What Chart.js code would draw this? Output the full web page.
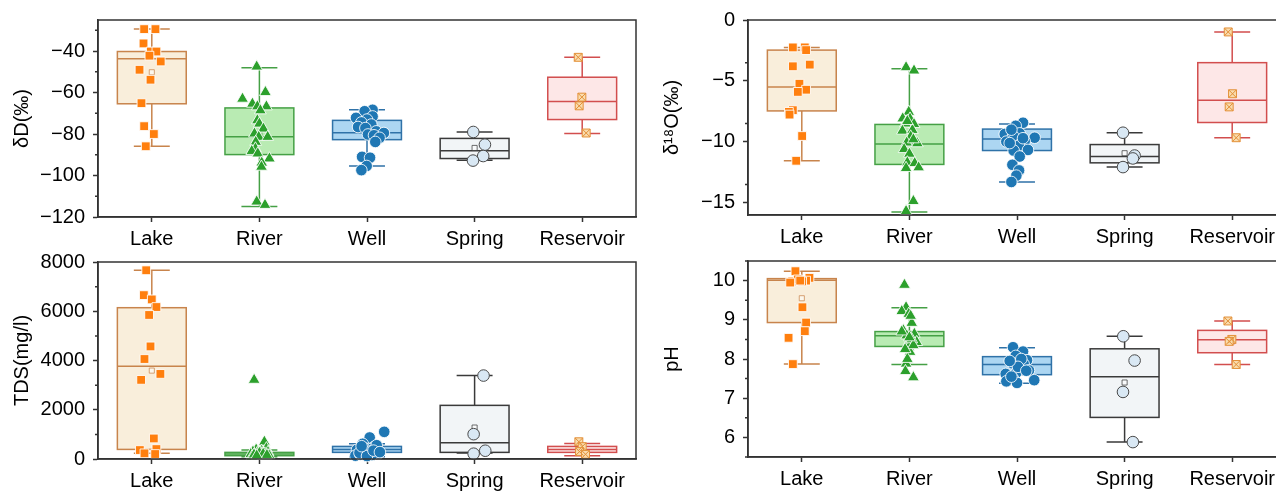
<!DOCTYPE html>
<html>
<head>
<meta charset="utf-8">
<script src="https://cdn.jsdelivr.net/npm/chart.js@4.4.1/dist/chart.umd.min.js"></script>
<style>
    html, body { margin: 0; padding: 0; background: #fff; width: 1276px; height: 492px; overflow: hidden; }
    canvas { position: absolute; }
</style>
</head>
<body>
<canvas id="dDChart" width="645" height="251" style="left:0;top:0"></canvas>
<canvas id="d18OChart" width="645" height="249" style="left:650px;top:0"></canvas>
<canvas id="tdsChart" width="645" height="251" style="left:0;top:242px"></canvas>
<canvas id="phChart" width="645" height="250" style="left:650px;top:241px"></canvas>
<script>
const categories = ["Lake", "River", "Well", "Spring", "Reservoir"];

// box stats per group: whisker low, Q1, median, Q3, whisker high, mean

// dD (‰)
const dDTicks = [-120, -100, -80, -60, -40];
const dDValues = [
    [-29.4, -29.4, -36.3, -40.2, -40.2, -42.2, -45, -49, -53.8, -65.1, -76.2, -80, -85.9],
    [-47.5, -59.8, -63, -65.4, -66.7, -66.7, -68.6, -73.4, -75, -77.4, -79.8, -81.4, -81.4, -83.8, -87, -88.2, -89.4, -91.8, -93.8, -95.8, -112.6, -114.2],
    [-68.3, -69, -72.2, -71.5, -73, -74.4, -75.4, -76.6, -77.1, -78.7, -79.5, -80.2, -80.6, -81.8, -83.8, -91, -91.4, -95.4, -97.4],
    [-79, -85.1, -90.6, -92.8],
    [-43, -62.2, -66.4, -79.5]
];
const dDJitter = [
    [-0.071, 0.034, -0.077, -0.009, 0.043, -0.022, 0.083, -0.114, -0.012, -0.096, -0.071, 0.019, -0.056],
    [-0.025, 0.056, -0.157, -0.065, -0.019, 0.065, 0.009, -0.019, 0, 0.037, -0.046, -0.006, 0.077, -0.034, -0.037, -0.071, -0.015, 0.093, 0.022, 0.019, -0.025, 0.052],
    [0.052, -0.022, -0.102, 0.052, 0, -0.052, 0.04, -0.083, -0.015, 0.086, 0.157, 0.009, 0.065, 0.117, 0.077, -0.046, 0.028, -0.003, -0.052],
    [-0.012, 0.096, 0.08, -0.015],
    [-0.037, -0.003, -0.028, 0.037]
];
const dDBoxes = [
    [-85.9, -65.4, -43.7, -40.2, -29.4, -50.2],
    [-114.9, -89.9, -81.3, -67.4, -48, -80],
    [-95.4, -82.7, -79.4, -73.4, -68.3, -79],
    [-92.6, -91.8, -88, -82.1, -79, -86.7],
    [-79.7, -73, -64.3, -52.6, -43, -62.8]
];

// d18O (‰)
const d18OTicks = [-15, -10, -5, 0];
const d18OValues = [
    [-2.25, -2.25, -2.47, -3.8, -3.66, -5.23, -5.72, -5.9, -7.4, -7.54, -7.76, -9.52, -11.55],
    [-3.88, -4.15, -7.54, -8.08, -8.1, -8.54, -8.5, -9.09, -9.03, -9.57, -10.06, -10.12, -10.6, -10.98, -11.69, -11.75, -12.1, -12.15, -14.86, -15.68, -8.3, -9.8],
    [-8.43, -8.68, -9.36, -9.3, -9.66, -9.5, -9.98, -9.95, -10.3, -10.66, -10.71, -11.2, -11.88, -12.34, -12.77, -13.29, -9.0, -9.7, -10.1],
    [-9.25, -11.12, -11.36, -12.07],
    [-0.98, -6.05, -7.13, -9.66]
];
const d18OJitter = [
    [-0.083, 0.028, 0.04, -0.083, 0.074, -0.022, 0.04, -0.037, -0.083, -0.12, -0.114, 0.003, -0.052],
    [-0.031, 0.043, -0.006, -0.062, 0.006, 0.043, -0.037, -0.065, 0.028, 0.012, -0.025, 0.074, -0.049, 0, -0.019, 0.049, 0.086, -0.031, 0.037, -0.031, -0.019, 0.037],
    [0.056, -0.012, -0.114, 0.025, 0.164, -0.037, -0.099, 0.071, 0.019, 0.102, -0.031, 0.025, -0.043, 0.019, -0.006, -0.052, -0.052, 0.056, -0.068],
    [-0.015, 0.093, 0.077, -0.015],
    [-0.037, 0.003, -0.028, 0.037]
];
const d18OBoxes = [
    [-11.55, -7.46, -5.5, -2.47, -2.25, -5.6],
    [-15.76, -11.85, -10.17, -8.57, -3.99, -9.9],
    [-13.29, -10.71, -9.76, -8.95, -8.54, -10.1],
    [-12.07, -11.72, -11.2, -10.22, -9.25, -10.93],
    [-9.66, -8.41, -6.59, -3.5, -0.98, -6]
];

// TDS (mg/l)
const tdsTicks = [0, 2000, 4000, 6000, 8000];
const tdsValues = [
    [7664, 6655, 6480, 6171, 5849, 4571, 4060, 3455, 3213, 834, 363, 403, 229, 202],
    [3213, 699, 430, 380, 330, 300, 280, 260, 240, 220, 200, 190, 170, 150, 130, 110, 95, 250, 210, 180, 160, 140],
    [1102, 874, 618, 497, 376, 215, 229, 134, 403, 188, 161, 560, 450, 300, 250, 120, 340, 520, 280],
    [3388, 1008, 336, 215],
    [700, 500, 300, 190]
];
const tdsJitter = [
    [-0.052, -0.074, 0, 0.043, -0.025, -0.012, -0.068, 0.08, -0.099, 0.019, -0.111, 0.043, -0.068, 0.031],
    [-0.049, 0.046, 0.065, -0.03, 0.02, -0.06, 0.08, 0.01, -0.02, 0.05, -0.08, 0.03, -0.01, 0.09, -0.04, 0.06, -0.07, 0, 0.035, -0.05, 0.07, -0.025],
    [0.16, 0.025, -0.04, 0.068, -0.093, -0.012, 0.108, -0.108, 0.015, -0.062, 0.046, 0.09, -0.03, 0.03, -0.07, 0, 0.06, -0.05, 0.12],
    [0.083, -0.009, 0.099, -0.009],
    [-0.031, 0, -0.025, 0.031]
];
const tdsBoxes = [
    [229, 390, 3765, 6144, 7664, 3590],
    [94, 134, 202, 269, 363, 390],
    [94, 269, 390, 511, 618, 420],
    [242, 269, 659, 2178, 3388, 1277],
    [134, 269, 390, 511, 632, 420]
];

// pH
const phTicks = [6, 7, 8, 9, 10];
const phValues = [
    [10.24, 10.07, 10, 9.98, 10.03, 9.95, 9.98, 9.32, 8.93, 8.71, 8.54, 7.87, 10.0],
    [9.89, 9.32, 9.22, 9.15, 8.92, 8.73, 8.64, 8.6, 8.43, 8.45, 8.3, 8.18, 7.88, 7.69, 7.53, 8.7, 8.5, 9.1, 8.0, 8.35, 8.25, 8.55],
    [8.3, 8.19, 8.08, 7.97, 7.89, 7.87, 7.71, 7.74, 7.65, 7.62, 7.5, 7.43, 7.39, 7.46, 8.0, 7.8, 7.95, 7.55, 7.7],
    [8.58, 7.96, 7.16, 5.88],
    [8.97, 8.5, 8.45, 7.86]
];
const phJitter = [
    [-0.059, 0.071, 0.04, -0.09, -0.037, -0.108, 0.003, 0.006, 0.04, 0.028, -0.123, -0.083, -0.015],
    [-0.046, -0.031, -0.071, -0.006, 0.022, -0.056, 0.046, -0.025, 0.068, 0, -0.006, 0.006, -0.031, -0.037, 0.037, -0.071, 0.022, 0.012, -0.019, 0.037, -0.04, 0],
    [-0.037, 0.056, -0.012, 0.093, -0.043, 0.062, 0.111, 0.025, -0.006, -0.105, -0.037, -0.099, 0, 0.16, 0.04, 0.009, -0.068, -0.052, 0.086],
    [-0.012, 0.093, -0.015, 0.077],
    [-0.04, -0.003, -0.028, 0.037]
];
const phBoxes = [
    [7.87, 8.93, 10.01, 10.05, 10.24, 9.55],
    [7.86, 8.32, 8.59, 8.70, 9.31, 8.6],
    [7.38, 7.6, 7.86, 8.06, 8.29, 7.8],
    [5.88, 6.51, 7.55, 8.26, 8.58, 7.40],
    [7.86, 8.16, 8.49, 8.73, 8.97, 8.45]
];

// styles per group
const boxStroke = ["#c8844c", "#45a045", "#2f72a8", "#3a3a3a", "#d24e4e"];
const boxFill = ["#f9eedb", "#b9ebb3", "#acd6f2", "#f2f5f7", "#fde7e7"];
const pointFill = ["#ff7f0e", "#2ca02c", "#1f77b4", "#d9e8f4", "#f9dcae"];
const pointEdge = ["rgba(255,255,255,0.85)", "rgba(255,255,255,0.85)", "rgba(255,255,255,0.85)", "#4a4a4a", "#e39038"];
const pointShape = ["rect", "triangle", "circle", "circle", "rect"];
const pointSize = [6.2, 6.8, 5.8, 5.8, 5.6];

const frameColor = "#333";
const boxHalf = 0.32;
const capHalf = 0.167;

Chart.defaults.font.family = "'Liberation Sans', Arial, sans-serif";
Chart.defaults.font.size = 20;
Chart.defaults.color = "#000";

function minus(v) {
    return String(v).replace("-", "\u2212");
}

// boxes + whiskers, drawn under the points
const boxPlugin = {
    id: "boxes",
    beforeDatasetsDraw(chart, args, opts) {
        const ctx = chart.ctx;
        const xs = chart.scales.x;
        const ys = chart.scales.y;
        opts.boxes.forEach(function (b, i) {
            const cx = xs.getPixelForValue(i + 1);
            const hw = xs.getPixelForValue(i + 1 + boxHalf) - cx;
            const cw = xs.getPixelForValue(i + 1 + capHalf) - cx;
            const lo = ys.getPixelForValue(b[0]);
            const q1 = ys.getPixelForValue(b[1]);
            const med = ys.getPixelForValue(b[2]);
            const q3 = ys.getPixelForValue(b[3]);
            const hi = ys.getPixelForValue(b[4]);
            ctx.save();
            ctx.strokeStyle = boxStroke[i];
            ctx.lineWidth = 1.5;
            ctx.beginPath();
            ctx.moveTo(cx, q3); ctx.lineTo(cx, hi);
            ctx.moveTo(cx, q1); ctx.lineTo(cx, lo);
            ctx.moveTo(cx - cw, hi); ctx.lineTo(cx + cw, hi);
            ctx.moveTo(cx - cw, lo); ctx.lineTo(cx + cw, lo);
            ctx.stroke();
            ctx.fillStyle = boxFill[i];
            ctx.fillRect(cx - hw, q3, 2 * hw, q1 - q3);
            ctx.strokeRect(cx - hw, q3, 2 * hw, q1 - q3);
            ctx.beginPath();
            ctx.moveTo(cx - hw, med); ctx.lineTo(cx + hw, med);
            ctx.stroke();
            ctx.restore();
        });
    }
};

// full frame + minor ticks on the y axis
const framePlugin = {
    id: "frame",
    afterDraw(chart, args, opts) {
        const ctx = chart.ctx;
        const a = chart.chartArea;
        const ys = chart.scales.y;
        ctx.save();
        ctx.strokeStyle = frameColor;
        ctx.lineWidth = 1.5;
        ctx.strokeRect(a.left, a.top, a.right - a.left, a.bottom - a.top);
        ctx.beginPath();
        for (let v = ys.min; v <= ys.max + 1e-9; v += opts.minor) {
            const t = Math.round(v / opts.minor);
            if (t % 2 === 0) continue;
            const y = ys.getPixelForValue(v);
            ctx.moveTo(a.left - 3, y);
            ctx.lineTo(a.left, y);
        }
        ctx.stroke();
        ctx.restore();
    }
};

function makePanel(canvasId, title, values, jitter, boxes, ticks, yMin, yMax, minor) {
    const datasets = [];

    values.forEach(function (vals, i) {
        datasets.push({
            label: categories[i],
            data: vals.map(function (v, k) { return { x: i + 1 + jitter[i][k], y: v }; }),
            pointStyle: pointShape[i],
            pointRadius: pointSize[i],
            backgroundColor: pointFill[i],
            borderColor: pointEdge[i],
            borderWidth: 1,
            clip: false
        });
        // reservoir marker: square with a cross
        if (i === 4) {
            datasets.unshift({
                label: "cross",
                data: vals.map(function (v, k) { return { x: i + 1 + jitter[i][k], y: v }; }),
                pointStyle: "crossRot",
                pointRadius: pointSize[i],
                borderColor: pointEdge[i],
                borderWidth: 1,
                clip: false
            });
        }
    });

    // mean markers
    datasets.push({
        label: "mean",
        data: boxes.map(function (b, i) { return { x: i + 1, y: b[5] }; }),
        pointStyle: "rect",
        pointRadius: 3.6,
        backgroundColor: "rgba(255,255,255,0.5)",
        borderColor: boxStroke.map(function (c) { return c + "bb"; }),
        borderWidth: 1,
        clip: false
    });

    new Chart(document.getElementById(canvasId), {
        type: "scatter",
        data: { datasets: datasets },
        options: {
            responsive: false,
            animation: false,
            events: [],
            layout: { padding: { top: 19, right: 9, left: 0, bottom: 0 } },
            plugins: {
                legend: { display: false },
                tooltip: { enabled: false },
                boxes: { boxes: boxes },
                frame: { minor: minor }
            },
            scales: {
                x: {
                    type: "linear",
                    min: 0.5,
                    max: 5.5,
                    afterBuildTicks: function (axis) {
                        axis.ticks = categories.map(function (c, i) { return { value: i + 1 }; });
                    },
                    afterFit: function (axis) { axis.height = 34; },
                    ticks: {
                        autoSkip: false,
                        maxRotation: 0,
                        padding: 5,
                        callback: function (value) { return categories[value - 1]; }
                    },
                    grid: { drawOnChartArea: false, tickLength: 5, tickColor: frameColor, tickWidth: 1.5 },
                    border: { color: frameColor, width: 1.5 }
                },
                y: {
                    min: yMin,
                    max: yMax,
                    afterBuildTicks: function (axis) {
                        axis.ticks = ticks.map(function (v) { return { value: v }; });
                    },
                    afterFit: function (axis) { axis.width = 98; },
                    ticks: {
                        padding: 8,
                        callback: function (value) { return minus(value); }
                    },
                    grid: { drawOnChartArea: false, tickLength: 5, tickColor: frameColor, tickWidth: 1.5 },
                    border: { color: frameColor, width: 1.5 },
                    title: {
                        display: true,
                        text: title,
                        padding: { top: 10, bottom: 0 }
                    }
                }
            }
        },
        plugins: [boxPlugin, framePlugin]
    });
}

makePanel("dDChart", "δD(‰)", dDValues, dDJitter, dDBoxes, dDTicks, -120, -25, 10);
makePanel("d18OChart", "δ¹⁸O(‰)", d18OValues, d18OJitter, d18OBoxes, d18OTicks, -16, 0, 2.5);
makePanel("tdsChart", "TDS(mg/l)", tdsValues, tdsJitter, tdsBoxes, tdsTicks, 0, 8000, 1000);
makePanel("phChart", "pH", phValues, phJitter, phBoxes, phTicks, 5.5, 10.5, 0.5);
</script>
</body>
</html>
